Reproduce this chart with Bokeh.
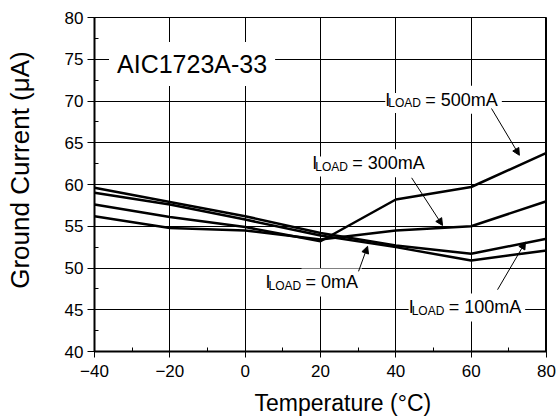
from bokeh.plotting import figure
from bokeh.models import (Range1d, SingleIntervalTicker, Label, Arrow, NormalHead,
                          Span, ColumnDataSource)
from bokeh.embed import file_html
from bokeh.resources import INLINE

# ---- data ----
temperature = [-40, -20, 0, 20, 40, 60, 80]
i_load_0mA = [59.0, 57.6, 55.8, 53.9, 52.5, 50.9, 52.1]
i_load_100mA = [59.6, 57.9, 56.2, 54.2, 52.7, 51.7, 53.5]
i_load_300mA = [56.2, 54.8, 54.5, 53.4, 54.5, 55.0, 58.0]
i_load_500mA = [57.6, 56.1, 54.9, 53.2, 58.2, 59.7, 63.8]

chart_title = "AIC1723A-33"
x_label = "Temperature (°C)"
y_label = "Ground Current (μA)"

# annotation labels: (value text, label x, label y centre, arrow x0, y0, x1, y1)
load_labels = [
    ("= 500mA", 37.2, 70.15, 65.4, 69.1, 72.8, 63.5),
    ("= 300mA", 17.8, 62.55, 44.2, 60.8, 52.4, 55.1),
    ("= 0mA", 5.4, 48.27, 30.1, 49.6, 32.5, 52.6),
    ("= 100mA", 43.4, 45.28, 67.0, 47.4, 74.4, 53.1),
]
title_pos = (-14.1, 74.43)

FONT = "Liberation Sans"
NBSP = "\u00a0"

p = figure(width=560, height=418, output_backend="svg", toolbar_location=None,
           x_range=Range1d(-40, 80), y_range=Range1d(40, 80),
           min_border_left=94, min_border_right=14, min_border_top=17,
           min_border_bottom=67)
p.background_fill_color = "white"
p.border_fill_color = "white"
p.outline_line_color = "black"
p.outline_line_width = 1

p.xaxis.ticker = SingleIntervalTicker(interval=20, num_minor_ticks=2)
p.yaxis.ticker = SingleIntervalTicker(interval=5, num_minor_ticks=2)

for ax in (p.xaxis[0], p.yaxis[0]):
    ax.axis_line_width = 2
    ax.axis_line_color = "black"
    ax.major_tick_in = 0
    ax.minor_tick_in = 4
    ax.minor_tick_out = 0
    ax.major_tick_line_color = "black"
    ax.minor_tick_line_color = "black"
    ax.major_label_text_font = FONT
    ax.major_label_text_font_size = "17px"
    ax.major_label_text_color = "black"
    ax.axis_label_text_font = FONT
    ax.axis_label_text_font_style = "normal"
    ax.axis_label_text_color = "black"
p.xaxis.major_tick_out = 6
p.yaxis.major_tick_out = 7
p.xaxis.major_label_standoff = 7
p.yaxis.major_label_standoff = 4

# axis titles: the reference places them off-centre, so pad with leading no-break spaces
p.xaxis.axis_label = NBSP * 7 + x_label
p.xaxis.axis_label_text_font_size = "23px"
p.xaxis.axis_label_standoff = 10
p.yaxis.axis_label = NBSP * 4 + y_label
p.yaxis.axis_label_text_font_size = "26px"
p.yaxis.axis_label_standoff = 27

for g in (p.xgrid[0], p.ygrid[0]):
    g.grid_line_color = "black"
    g.grid_line_width = 1
    g.grid_line_alpha = 1

p.add_layout(Span(location=80, dimension="height", line_color="black", line_width=3))

src = ColumnDataSource(dict(t=temperature, a=i_load_0mA, b=i_load_100mA,
                            c=i_load_300mA, d=i_load_500mA))
for col in ("a", "b", "c", "d"):
    p.line("t", col, source=src, line_color="black", line_width=2.5)

# chart name label
p.add_layout(Label(x=title_pos[0], y=title_pos[1], text=chart_title,
                   text_font=FONT, text_font_size="25px", text_color="black",
                   text_align="center", text_baseline="middle",
                   background_fill_color="white", padding=8))

for val, lx, ly, x0, y0, x1, y1 in load_labels:
    p.add_layout(Label(x=lx, y=ly, x_offset=0, y_offset=-3.3, text="LOAD", text_font=FONT,
                       text_font_size="12px", text_color="black", text_baseline="middle",
                       background_fill_color="white", padding=3))
    p.add_layout(Label(x=lx, y=ly, x_offset=36, text=val, text_font=FONT,
                       text_font_size="18px", text_color="black", text_baseline="middle",
                       background_fill_color="white", padding=4))
    p.add_layout(Label(x=lx, y=ly, text="I", text_font=FONT, text_font_size="18px",
                       text_color="black", text_baseline="middle"))
    p.add_layout(Arrow(x_start=x0, y_start=y0, x_end=x1, y_end=y1, line_width=1,
                       line_color="black",
                       end=NormalHead(size=7, fill_color="black", line_color="black")))

open("out.html", "w").write(file_html(p, INLINE))
